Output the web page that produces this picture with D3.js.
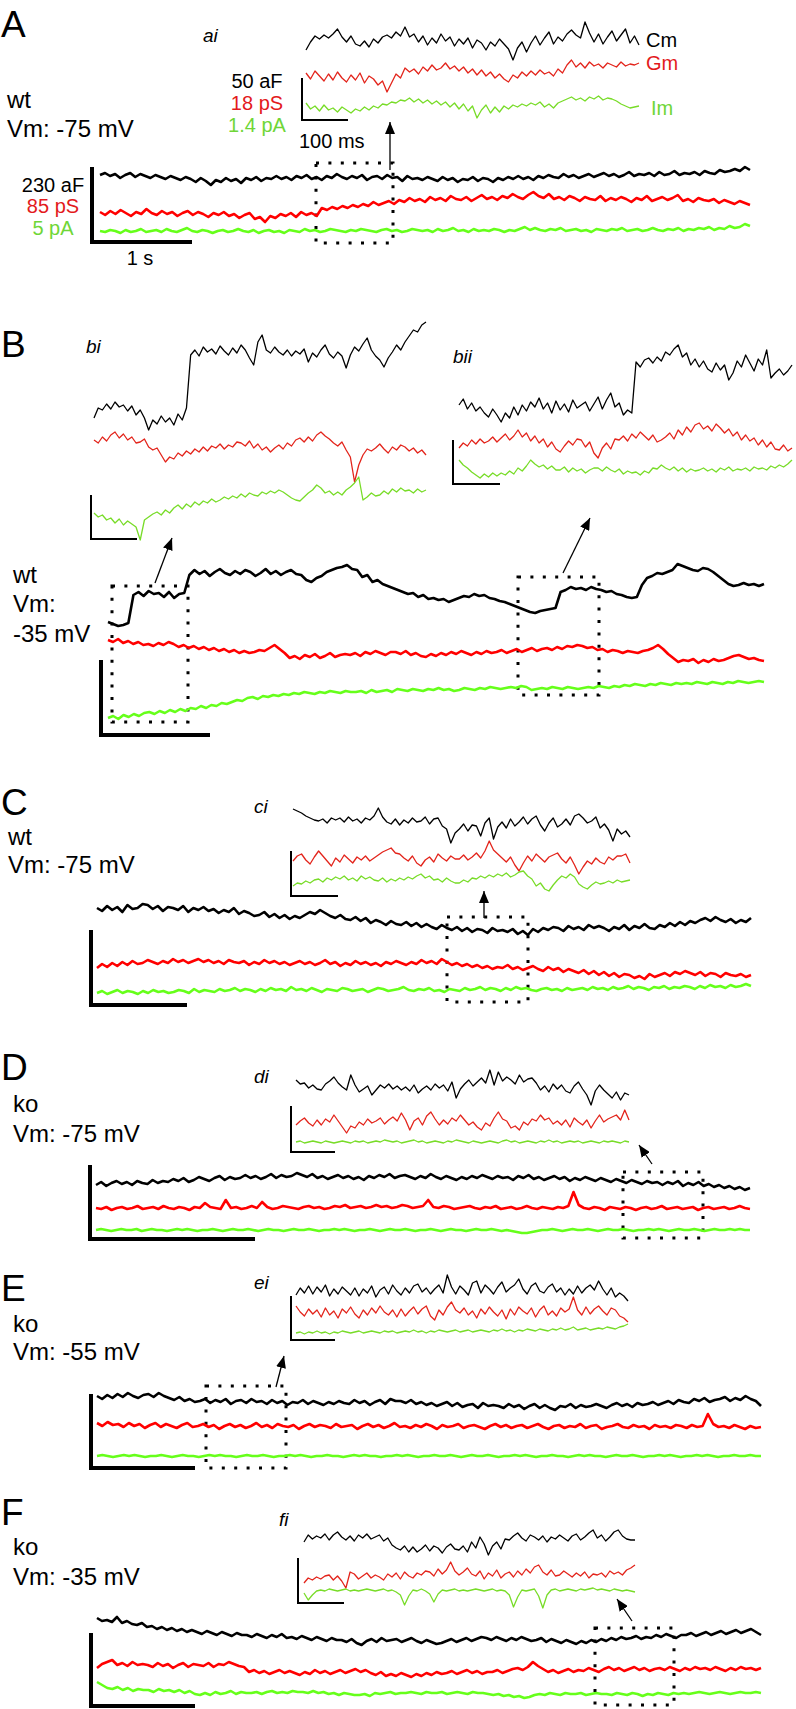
<!DOCTYPE html>
<html><head><meta charset="utf-8">
<script src="https://cdn.jsdelivr.net/npm/d3@7"></script>
<style>
html,body{margin:0;padding:0;background:#fff;}
svg{display:block;}
text{font-family:"Liberation Sans",Arial,sans-serif;}
</style></head>
<body>
<div id="chart"></div>
<script>
// ===== DATA (offsets, positive = up) =====
// Panel A main traces
const aCm = [2,4,1,3,-1,2,4,0,3,1,-1,2,0,-2,1,-1,-3,0,-2,-5,-1,-4,-8,-3,-5,-1,-4,-2,-6,-1,-3,0,-4,-1,-2,1,-2,0,-3,1,-1,2,-2,0,-3,1,-1,3,0,-2,1,-1,2,-3,0,1,-2,2,-1,0,-4,1,-2,-1,-3,0,-2,-4,0,-3,-1,-5,-2,-3,0,-4,-1,-2,-5,-1,-3,0,-2,1,-2,0,-3,1,-1,2,0,-1,3,0,2,-1,1,3,0,2,4,1,3,0,2,5,1,3,2,4,1,5,2,3,6,2,4,3,5,2,6,4,3,7,5,6,8,6,10,7];
const aGm = [-2,-5,-1,-4,0,-3,-6,-2,-4,1,-3,-5,-1,-4,-2,-6,-3,-1,-5,-2,-4,-7,-3,-5,-2,-6,-4,-8,-5,-3,-9,-7,-12,-6,-8,-4,-6,-3,-7,-2,-5,-3,-6,2,0,3,1,4,2,5,3,6,4,8,5,7,9,6,10,8,12,9,11,8,13,10,12,9,14,11,10,13,9,12,15,11,13,10,14,12,16,13,11,15,18,14,12,16,11,13,10,14,12,9,13,11,10,14,9,12,10,13,11,8,12,10,14,9,11,13,10,12,15,9,11,8,12,10,9,11,7,10,8,6,9,7,5];
const aIm = [0,-1,1,0,-2,1,-1,0,2,-1,0,1,-1,2,0,-1,1,3,0,-1,1,0,-2,0,1,-1,0,2,0,-1,1,-2,0,1,-1,0,-2,1,0,-1,2,0,1,-1,0,2,1,0,-1,1,0,2,1,0,-1,1,2,0,1,-1,0,2,1,0,1,-1,2,0,1,3,0,1,-1,2,0,1,0,2,1,-1,1,0,2,4,1,3,1,0,2,1,3,0,1,2,0,1,-1,2,1,0,2,1,3,0,1,2,0,1,3,1,0,2,1,3,0,2,1,3,2,4,1,3,2,5,3,4,7,5];
// Panel A inset (ai)
const aiCm = [-10,-2,4,1,5,2,6,11,3,-2,4,-4,-6,-1,-7,1,-3,3,5,2,8,4,13,3,6,-2,4,-5,2,-3,6,-1,3,-6,1,-4,2,-8,0,-3,-10,-2,-6,1,-4,-9,-20,-8,-2,-12,-3,4,-5,2,8,-4,3,-1,6,10,5,2,18,7,-2,6,-4,3,9,-1,5,11,-3,4,-5];
const aiGm = [4,-2,6,1,-4,3,-3,5,-1,-5,2,-3,4,-6,1,-2,-8,-4,-15,-6,3,-1,9,5,8,3,10,6,12,7,9,14,8,11,6,10,4,8,2,7,1,5,-1,3,-2,-5,2,-1,5,1,6,2,7,3,5,1,8,4,12,17,10,14,9,15,11,13,9,14,12,10,15,11,13,12,14];
const aiIm = [4,-2,1,-4,2,-3,-1,-5,0,-3,-6,-2,-4,0,-3,1,-1,3,2,5,4,7,6,9,5,8,4,7,3,6,2,5,0,4,-2,3,-4,1,-11,-3,2,-6,0,-5,1,-2,2,0,3,1,4,2,5,0,3,-1,4,6,8,10,7,9,6,10,8,11,7,9,8,6,3,1,-1,0,1];
// Panel B main
const bCm = [-32,-34,-36,-35,-33,-5,-2,-6,-1,-4,-3,-7,-2,-8,-4,-3,15,20,16,19,14,18,21,17,15,19,16,20,18,14,17,21,16,19,15,18,20,16,15,10,8,12,14,18,20,22,23,25,21,20,13,15,8,10,6,4,2,0,-2,-4,-3,-7,-5,-9,-8,-10,-9,-12,-10,-8,-6,-7,-4,-6,-5,-8,-9,-11,-12,-14,-16,-18,-20,-22,-23,-21,-20,-19,-18,-2,0,3,1,2,0,3,1,0,-2,-1,-4,-5,-7,-8,-7,5,12,14,17,16,18,20,26,24,22,20,19,22,21,18,14,10,6,4,5,7,5,6,4,6];
const bGm = [10,8,11,7,9,6,8,5,6,4,7,5,8,6,3,5,2,4,1,3,0,2,-1,1,-2,0,-3,-1,-3,-2,0,-1,2,5,1,-3,-8,-6,-9,-5,-7,-4,-8,-6,-3,-7,-5,-4,-5,-3,-6,-2,-4,-1,-3,-5,-2,-2,-4,-1,-5,-3,-6,-7,-4,-6,-3,-5,-2,-4,-1,-3,-5,-2,-4,-1,-3,-2,0,-3,-1,1,-2,0,2,-1,1,2,0,3,1,4,3,5,4,2,3,0,1,-2,0,-1,-3,-1,-2,-3,-1,0,2,5,1,-4,-8,-12,-10,-11,-9,-13,-10,-12,-9,-11,-10,-8,-6,-5,-7,-9,-8,-10,-11];
const bIm = [-18,-16,-19,-15,-17,-14,-16,-13,-12,-14,-11,-13,-10,-12,-9,-11,-8,-9,-6,-8,-5,-6,-3,-4,-2,0,-1,2,3,1,4,3,5,4,6,5,7,6,8,7,6,8,7,9,8,7,9,8,8,9,7,10,8,9,10,8,11,10,9,11,10,9,11,10,12,10,11,9,10,12,11,10,12,11,13,12,11,12,13,12,14,13,10,11,12,11,13,12,11,13,12,11,12,13,12,14,13,12,14,13,15,14,16,15,14,16,15,17,16,15,17,16,17,16,18,17,16,18,17,16,18,17,19,18,17,18,19,18];
// Panel B insets (bi, bii)
const biCm = [-38,-28,-30,-24,-29,-22,-27,-25,-31,-26,-35,-30,-38,-50,-40,-44,-36,-42,-38,-45,-34,-40,-28,25,30,24,33,28,31,26,34,29,25,32,27,35,30,22,15,38,45,30,27,33,28,25,30,24,29,26,31,18,27,23,30,35,26,22,28,24,12,25,33,29,36,42,30,24,20,13,22,28,35,30,38,44,50,48,55,58];
const biGm = [5,2,8,4,10,13,7,11,5,8,2,3,6,-2,-5,-3,-10,-17,-12,-14,-8,-11,-6,-9,-4,-7,-2,-6,-1,-3,1,-4,0,-2,3,2,-1,4,-3,1,-5,-2,-7,-3,0,-4,2,-1,5,7,3,8,4,10,13,9,6,2,-1,3,-5,-12,-37,-20,-10,-4,-6,-3,1,-4,-8,-2,-5,0,-2,-6,-3,-8,-5,-10];
const biIm = [-8,-12,-10,-15,-13,-18,-14,-20,-16,-19,-22,-35,-15,-12,-9,-7,-10,-5,-8,-3,0,-4,1,-2,3,0,4,2,6,3,5,8,6,9,7,11,8,12,10,9,13,11,14,12,15,13,10,7,5,4,8,12,15,20,17,12,14,10,13,10,15,18,22,28,5,8,12,9,10,14,11,16,13,17,14,15,12,16,13,15];
const biiCm = [-20,-14,-24,-18,-26,-22,-28,-32,-24,-30,-37,-28,-33,-22,-30,-20,-26,-17,-22,-13,-24,-18,-28,-16,-25,-19,-27,-15,-23,-20,-17,-26,-19,-12,-24,-15,-8,-22,-18,-30,-25,-28,23,18,25,27,22,28,24,33,30,36,40,28,32,20,26,18,24,16,13,22,15,20,5,12,24,18,30,22,14,26,20,35,7,12,16,10,14,20];
const biiGm = [-3,2,-1,5,1,6,2,4,8,3,7,11,5,9,15,8,12,4,9,2,6,-2,3,-4,-7,-1,4,0,6,5,-2,3,-8,-13,-3,2,-4,6,5,9,4,11,7,13,9,5,10,3,5,8,12,6,15,10,18,13,20,22,16,19,14,21,17,12,16,9,13,5,10,4,7,0,5,-2,3,-4,-5,0,-6,-3];
const biiIm = [10,5,2,-2,-5,-8,-4,-7,-3,-6,-3,-5,-1,-4,2,-1,4,10,6,3,5,1,4,0,0,3,-2,2,-1,1,-3,0,2,2,-1,3,0,-2,1,-4,-1,-3,-2,-5,-1,-3,2,1,5,2,0,3,-1,2,-2,1,-1,0,2,-1,1,-2,2,0,3,-1,1,0,2,-1,3,1,2,0,4,2,5,3,6,10];
// Panel C
const cCm = [12,9,14,10,13,8,15,11,12,16,15,11,14,9,13,12,10,14,8,12,10,13,9,11,7,10,8,12,6,9,7,4,5,8,3,6,2,5,1,4,2,5,8,6,10,7,4,2,5,1,0,3,-1,2,-3,0,-2,-5,-1,-4,-5,-2,-6,-3,-7,-4,-7,-9,-5,-8,-10,-7,-11,-8,-12,-9,-10,-13,-8,-11,-10,-12,-9,-14,-11,-15,-9,-12,-8,-10,-7,-8,-11,-6,-9,-7,-10,-5,-8,-6,-8,-11,-7,-9,-5,-10,-6,-8,-4,-8,-9,-5,-7,-3,-6,-2,-5,-1,-3,0,2,-1,3,0,-2,1,-3,0,-2,2];
const cGm = [-3,1,-2,2,-1,3,0,4,1,2,5,3,1,4,2,6,3,5,2,4,6,3,5,2,4,1,5,3,2,4,0,3,1,5,2,4,1,3,0,2,4,1,3,0,2,5,1,3,-1,2,0,4,1,3,0,2,-1,3,1,4,2,0,3,1,5,2,4,1,6,3,0,2,-1,1,-2,0,-3,-1,-4,-2,-3,0,-4,-2,-5,-3,-1,-4,-6,-2,-5,-3,-7,-4,-6,-8,-5,-9,-6,-10,-7,-11,-8,-12,-9,-10,-13,-11,-14,-9,-12,-10,-8,-11,-7,-9,-6,-8,-10,-7,-11,-8,-9,-12,-8,-10,-11,-9,-12,-10];
const cIm = [-3,-1,-4,-2,0,-3,-1,-2,-4,-1,-3,0,-2,-1,-3,-2,0,-1,-3,1,-2,0,-1,-2,1,-1,0,2,-1,1,0,-2,1,-1,2,0,1,-1,3,0,1,-1,2,0,-2,1,0,-1,2,1,-1,0,1,-2,0,2,1,-1,0,1,3,0,-1,1,0,2,-1,0,-2,1,0,-1,2,0,1,3,0,2,1,-1,2,0,3,1,2,0,-1,1,2,0,1,-1,2,0,1,2,0,3,1,2,0,3,1,2,4,1,3,2,0,3,2,4,1,3,2,4,3,1,4,2,5,3,4,2,5,3,4,6,4];
const ciCm = [12,10,8,5,3,1,0,2,-2,3,1,3,-1,4,0,2,-2,3,1,5,13,4,-1,-3,2,-4,1,-2,3,-1,0,4,-3,2,3,-5,-8,-22,-12,-8,-3,-10,-4,-5,-15,-2,3,-18,-6,-1,-7,2,-5,-1,4,-3,2,5,-4,-10,-2,3,-6,-3,2,-4,5,7,3,-2,0,4,-7,-3,-9,-20,-8,-13,-10,-16];
const ciGm = [-2,3,5,-1,-5,2,8,3,-2,-7,1,-3,4,0,-4,2,-1,3,-2,1,4,7,9,11,6,5,1,-2,3,-4,-7,-1,2,-3,5,1,-2,3,0,0,4,-1,2,6,1,8,18,9,5,1,-3,2,-6,-12,-4,3,-2,5,1,-3,2,4,6,0,-4,2,-6,-15,-8,-2,-5,1,-3,-5,2,-1,3,3,5,-4];
const ciIm = [-5,-2,-3,0,-2,1,2,-1,3,1,4,2,5,1,3,0,5,2,4,1,0,3,-1,2,0,3,1,4,2,5,7,3,5,1,2,-1,3,0,-2,-2,1,-1,3,2,5,3,6,4,7,5,8,4,6,9,10,5,2,-5,-2,-8,-10,-4,1,5,3,7,4,-3,-6,-8,-4,-1,-3,-2,0,-2,1,-1,0,1];
// Panel D
const dCm = [-5,-2,-6,-3,-1,-4,-2,-5,-1,-3,-4,0,-3,-1,-2,1,-1,2,-2,0,3,1,-1,2,4,0,3,1,2,5,2,4,1,3,6,2,5,3,4,7,5,3,6,2,4,1,3,5,2,4,1,3,0,4,2,5,3,6,2,4,5,3,1,4,2,6,3,1,4,2,0,3,1,4,2,5,3,1,4,2,3,0,4,2,5,1,3,0,2,4,1,3,-1,2,0,3,1,-1,2,0,-2,1,-1,-3,0,-2,-4,-1,-3,-2,-5,-2,-4,-1,-6,-3,-5,-2,-6,-4,-7,-5,-8,-6,-9,-7,-10,-8];
const dGm = [0,-1,1,-2,0,1,-1,0,2,-1,0,1,-1,2,0,-1,1,0,-2,1,0,5,1,0,-1,8,0,1,-1,0,2,0,6,1,-1,0,2,1,0,-1,1,2,0,1,-1,0,2,1,3,0,1,2,0,1,3,1,2,0,1,3,2,0,1,2,8,1,0,2,1,-1,0,1,2,0,-1,1,0,2,-1,0,1,-1,0,2,0,-1,1,0,-1,1,0,2,16,3,0,-1,1,0,-2,1,0,-1,1,0,-2,0,1,-1,0,2,-1,0,1,-1,0,1,-2,0,1,-1,0,1,-1,0,2,0,-1];
const dIm = [0,1,0,-1,0,1,0,0,1,-1,0,1,0,0,-1,0,1,0,1,0,-1,0,0,1,0,-1,0,1,0,0,1,0,-1,0,1,0,0,-1,0,1,0,0,1,0,-1,0,0,1,0,1,0,-1,0,0,1,0,-1,0,1,0,0,1,0,-1,0,0,1,0,-1,0,1,0,0,-1,0,1,0,0,1,0,-1,0,-1,-2,-3,-3,-2,-1,0,0,1,0,-1,0,1,0,0,1,0,-1,0,1,0,0,1,0,-1,0,0,1,0,1,0,-1,0,1,0,0,1,0,-1,0,1,0,0,1,0,1,0,0];
const diCm = [7,3,4,-1,2,-2,-3,3,6,10,4,0,-3,12,2,-5,-2,1,-8,-3,2,-1,3,-2,1,-3,0,-4,2,-6,-2,1,-3,3,-1,2,-4,5,-11,-2,3,7,1,5,9,4,17,2,15,6,10,7,3,12,5,8,9,4,-3,1,-5,3,-2,2,-4,-6,1,5,-2,-8,-18,-4,2,-3,-7,-11,-5,-13,-6,-8];
const diGm = [-2,2,5,0,-3,3,-2,4,1,8,2,-4,-10,-3,-5,1,-2,4,0,2,5,-1,3,6,2,10,3,-7,2,5,-2,7,11,4,-2,3,-1,5,2,8,3,-2,1,-4,-7,0,-3,5,11,4,2,-5,-3,-7,1,-2,4,2,8,3,5,-1,2,-2,3,-4,5,1,-2,3,-5,2,8,1,4,6,8,3,13,3];
const diIm = [0,1,-1,0,1,0,-1,1,0,-1,0,1,0,-1,1,0,1,-1,0,1,0,2,1,0,1,-1,0,1,2,0,1,-1,0,1,0,-1,1,0,2,1,0,-1,1,0,-1,0,1,0,-1,1,2,0,1,-1,0,1,0,-1,1,0,2,0,1,-1,0,1,0,1,-1,0,1,0,-1,1,0,1,0,-1,1,0];
// Panel E
const eCm = [5,2,6,3,7,4,8,5,3,6,7,4,8,5,3,1,4,0,2,-1,0,2,-2,1,-1,2,-3,0,1,-2,2,-1,0,-3,1,-2,0,-4,-1,-2,1,-3,0,-2,-4,-1,-3,0,-2,-3,1,-2,0,-4,-1,1,-3,2,0,0,-2,1,-3,-1,-4,-2,-5,-3,-1,-5,-2,-6,-4,-3,-7,-2,-5,-4,-5,-7,-3,-6,-4,-8,-5,-3,-7,-4,-7,-9,-5,-6,-3,-7,-4,-6,-5,-3,-5,-7,-4,-2,-5,-3,-6,-2,-4,-3,-1,-4,-2,0,-3,1,-1,-2,2,0,3,-1,1,2,4,0,3,1,5,2,0,-5];
const eGm = [3,0,4,1,2,-1,3,0,2,-2,1,3,-1,2,0,-2,1,3,-1,0,2,-1,1,-3,0,2,-1,1,-2,0,3,-1,1,-2,2,0,-1,1,-3,0,2,-1,1,0,-2,2,-1,0,1,-3,0,2,-1,1,-2,0,3,-1,0,-2,1,-1,2,0,-3,1,-1,0,2,-2,0,1,-1,-3,0,2,-1,1,-2,0,1,-2,0,2,-1,-3,0,1,-2,0,-1,2,-2,0,1,-3,-1,0,2,-1,-2,1,-1,0,-3,1,-1,0,-2,1,0,-2,1,-1,0,12,2,-1,0,-2,1,-1,-3,0,-2,-1];
const eIm = [0,1,0,-1,0,1,0,1,0,-1,0,0,1,0,-1,0,1,0,0,-1,0,1,0,1,0,0,-1,0,1,0,0,1,0,-1,0,0,1,0,1,0,-1,0,0,1,0,0,-1,0,1,0,1,0,0,-1,0,0,1,0,1,0,-1,0,0,1,0,0,1,0,-1,0,1,0,0,1,0,-1,0,0,1,0,1,0,-1,0,0,1,0,0,-1,0,1,0,1,0,0,-1,0,1,0,0,1,0,-1,0,0,1,0,1,0,-1,0,0,1,0,1,0,-1,0,0,1,0,0,1,0,0];
const eiCm = [-4,3,-2,5,-3,4,-1,6,-5,2,-3,4,0,-4,3,-5,2,-2,5,-6,1,4,-3,6,0,-4,3,-2,5,7,-1,3,-3,2,6,-2,16,4,-3,5,1,-4,8,10,-2,6,2,-3,4,9,-1,3,6,12,2,-3,5,8,0,-2,4,7,-1,3,-4,2,-3,5,-2,3,6,1,10,2,-4,3,-6,-2,-5,-10];
const eiGm = [6,0,-4,3,-2,2,-5,4,-3,1,-6,3,-1,5,-2,-6,2,-3,4,-1,6,0,-3,2,-5,3,-4,1,5,-2,3,6,-4,-8,2,-3,5,10,2,-1,4,-3,1,-6,3,-2,5,0,-4,2,-7,3,-3,5,1,-2,4,-5,2,6,-3,1,-4,4,0,3,15,2,-3,5,-2,3,6,1,-3,4,2,-4,-6,-10];
const eiIm = [-1,0,-2,0,-1,1,-1,0,-2,0,-1,1,0,-1,0,1,-1,0,1,0,-1,1,0,1,-1,0,1,0,2,0,1,-1,1,0,2,1,0,1,2,0,1,2,0,1,2,1,0,2,1,3,1,2,0,2,1,3,2,1,3,2,1,3,2,4,2,3,5,2,3,4,2,3,4,3,5,4,3,5,6,8];
// Panel F
const fCm = [17,14,15,13,18,12,14,11,10,12,8,9,6,8,5,7,4,6,3,5,3,1,4,2,0,3,1,-1,2,0,0,-2,1,-1,-3,0,-2,1,-3,-2,-4,-1,-3,-5,-2,-4,-6,-3,-5,-5,-7,-4,-8,-10,-6,-4,-7,-3,-6,-5,-4,-7,-5,-3,-6,-8,-5,-7,-9,-8,-6,-4,-7,-5,-3,-6,-4,-2,-3,-5,-2,-4,-6,-3,-5,-2,-4,-6,-5,-3,-7,-4,-6,-8,-5,-7,-9,-6,-8,-5,-7,-4,-6,-3,-5,-2,-4,-3,-1,-4,-2,-3,0,-2,1,-1,-3,0,0,2,-1,1,3,0,2,4,1,3,5,2,4,6,3,0];
const fGm = [2,6,8,10,5,7,4,8,5,6,5,3,7,4,6,2,5,7,3,6,5,4,7,3,6,5,8,6,4,3,-2,0,-3,-1,-4,-2,0,-3,-1,-3,-5,-2,-4,0,-3,-1,-4,-2,0,-3,-1,1,-2,0,-3,-5,-2,-6,-4,-6,-3,-5,-7,-4,-6,-3,-5,-2,-4,-3,-1,-4,-2,0,-3,-1,-4,-2,-2,0,-3,-1,1,2,0,3,8,4,1,-2,0,-3,-1,1,-2,0,-1,2,0,-2,1,3,0,2,-1,1,3,0,2,-1,1,2,0,3,1,-1,2,0,3,1,2,0,3,1,-1,2,0,3,1,2,0,2];
const fIm = [10,7,4,3,5,2,4,1,3,2,2,0,3,1,2,0,2,-1,1,-2,-3,-1,-3,0,-2,-1,1,-2,0,-1,-1,0,-2,0,1,-1,0,-1,1,0,0,-1,1,-1,0,-2,-1,-3,-1,-2,-3,-3,-2,-4,-1,-2,-1,0,-2,-1,-1,0,-1,-2,0,-1,-1,0,-2,-1,0,-1,-2,0,-1,-1,-2,-3,-2,-4,-3,-5,-4,-6,-5,-3,-2,-3,-1,-2,-3,-1,-2,-2,-1,-3,-2,-1,-2,-2,-3,-1,-2,-3,-1,-2,-4,-2,-3,-1,-2,-3,-1,-2,-1,-2,-1,0,-1,-2,-1,0,-1,-2,-1,0,-1,-1,0,-1];
const fiCm = [-2,5,1,4,2,6,0,5,8,3,0,4,-1,5,2,6,1,3,5,-1,2,-5,-8,-10,-6,-12,-7,-12,-9,-5,-11,-6,-8,-13,-7,-4,-9,-10,-6,-12,-2,-8,3,-4,-15,-6,-2,-9,1,0,4,7,2,-1,5,3,0,4,-2,3,1,5,2,-1,4,6,0,3,7,10,2,5,-1,3,8,10,4,1,0,0];
const fiGm = [-6,-1,-3,0,-2,1,2,-3,1,-4,-11,5,3,-2,1,4,-1,2,0,-3,3,0,4,-2,5,1,-1,4,2,6,5,1,8,3,7,15,6,2,5,9,3,1,6,-2,4,1,7,-1,3,5,0,6,2,8,4,10,12,5,2,7,1,2,6,3,0,4,1,5,-1,3,2,4,0,6,3,5,2,7,9,12];
const fiIm = [-2,-9,-4,0,1,0,2,1,0,1,2,0,1,0,1,2,1,0,1,2,0,1,-1,-4,-14,-5,1,0,2,0,-3,-11,-3,1,0,1,2,0,1,0,1,2,1,0,1,2,0,1,0,-4,-16,-6,1,0,1,2,-5,-17,-4,1,2,0,1,2,1,0,2,1,2,3,1,2,1,0,2,1,0,1,0,-1];

// Text labels
const panelLetters = ["A","B","C","D","E","F"];
const genotypes = ["wt","wt","wt","ko","ko","ko"];
const holding = ["Vm: -75 mV","Vm: -35 mV","Vm: -75 mV","Vm: -75 mV","Vm: -55 mV","Vm: -35 mV"];
const insetNames = ["ai","bi","bii","ci","di","ei","fi"];
const mainScaleLabels = ["230 aF","85 pS","5 pA"];
const insetScaleLabels = ["50 aF","18 pS","1.4 pA"];
const traceNames = ["Cm","Gm","Im"];
const timeLabels = ["1 s","100 ms"];

// ===== STYLE =====
const COL = {cm:"#000000", gm:"#ff0000", im:"#66ff1a", gmIn:"#e3241b", imIn:"#78dc28", gmTxt:"#e31a1c", imTxt:"#6fd637"};
const FONT = "'Liberation Sans', Arial, sans-serif";

const svg = d3.select("#chart").append("svg").attr("width",796).attr("height",1709);
svg.append("defs").append("marker")
  .attr("id","ah").attr("viewBox","0 0 12 10").attr("refX",12).attr("refY",5)
  .attr("markerWidth",12).attr("markerHeight",10).attr("markerUnits","userSpaceOnUse")
  .attr("orient","auto")
  .append("path").attr("d","M0,0 L12,5 L0,10 Z").attr("fill","#000");

const gBox = svg.append("g"), gTr = svg.append("g"), gAnn = svg.append("g");

function drawTrace(values, x0, x1, base, color, width){
  const x = d3.scaleLinear().domain([0, values.length-1]).range([x0, x1]);
  const y = d3.scaleLinear().domain([-50, 50]).range([base+50, base-50]);
  gTr.append("path").datum(values)
    .attr("d", d3.line().x((d,i)=>x(i)).y(d=>y(d)))
    .attr("fill","none").attr("stroke",color).attr("stroke-width",width)
    .attr("stroke-linejoin","round");
}
function triple(set, x0, x1, bases, inset){
  const w = inset ? 1.3 : 2.6;
  drawTrace(set[0], x0, x1, bases[0], COL.cm, w);
  drawTrace(set[1], x0, x1, bases[1], inset ? COL.gmIn : COL.gm, w);
  drawTrace(set[2], x0, x1, bases[2], inset ? COL.imIn : COL.im, w);
}
function scaleBar(x, yTop, yBot, xRight, w){
  gAnn.append("path").attr("d",`M${x},${yTop} L${x},${yBot} L${xRight},${yBot}`)
    .attr("fill","none").attr("stroke","#000").attr("stroke-width",w).attr("stroke-linejoin","miter");
}
function dotBox(x0,y0,x1,y1){
  gBox.append("rect").attr("x",x0).attr("y",y0).attr("width",x1-x0).attr("height",y1-y0)
    .attr("fill","none").attr("stroke","#000").attr("stroke-width",3).attr("stroke-dasharray","3,9.4");
}
function arrow(x1,y1,x2,y2){
  gAnn.append("line").attr("x1",x1).attr("y1",y1).attr("x2",x2).attr("y2",y2)
    .attr("stroke","#000").attr("stroke-width",1.3).attr("marker-end","url(#ah)");
}
function txt(s,x,y,size,opts={}){
  gAnn.append("text").attr("x",x).attr("y",y).text(s)
    .attr("font-size",size).attr("font-family",FONT)
    .attr("fill",opts.fill||"#000")
    .attr("text-anchor",opts.anchor||"start")
    .attr("font-style",opts.italic?"italic":"normal");
}

// ===== LAYOUT =====
const P = [
 {letterY:37, gx:7, gY:108, vY:[137],
  main:{x0:100,x1:750,b:[177,210,231],data:[aCm,aGm,aIm],bar:[92,167,242,192]},
  insets:[{x0:306,x1:639,b:[40,77,107],data:[aiCm,aiGm,aiIm],bar:[302,78,120,348],name:"ai",nx:203,ny:42}],
  boxes:[[316,163,393,243]], arrows:[[390,170,390,122]]},
 {letterY:357, gx:13, gY:583, vY:[612,642],
  main:{x0:108,x1:764,b:[590,650,700],data:[bCm,bGm,bIm],bar:[101,660,735,210]},
  insets:[{x0:94,x1:426,b:[380,445,505],data:[biCm,biGm,biIm],bar:[91,495,539,137],name:"bi",nx:86,ny:353},
          {x0:459,x1:792,b:[385,445,470],data:[biiCm,biiGm,biiIm],bar:[453,440,484,500],name:"bii",nx:453,ny:363}],
  boxes:[[112,586,188,722],[518,577,599,695]], arrows:[[155,583,172,538],[563,573,590,518]]},
 {letterY:815, gx:8, gY:845, vY:[873],
  main:{x0:97,x1:751,b:[920,965,990],data:[cCm,cGm,cIm],bar:[91,930,1005,187]},
  insets:[{x0:293,x1:630,b:[821,859,881],data:[ciCm,ciGm,ciIm],bar:[291,851,896,338],name:"ci",nx:254,ny:813}],
  boxes:[[447,917,528,1002]], arrows:[[484,918,484,891]]},
 {letterY:1080, gx:13, gY:1112, vY:[1142],
  main:{x0:96,x1:750,b:[1180,1208,1230],data:[dCm,dGm,dIm],bar:[90,1165,1239,255]},
  insets:[{x0:296,x1:629,b:[1087,1123,1142],data:[diCm,diGm,diIm],bar:[291,1106,1152,335],name:"di",nx:254,ny:1083}],
  boxes:[[623,1172,703,1238]], arrows:[[652,1164,639,1145]]},
 {letterY:1301, gx:13, gY:1332, vY:[1360],
  main:{x0:97,x1:761,b:[1401,1426,1456],data:[eCm,eGm,eIm],bar:[91,1394,1468,195]},
  insets:[{x0:296,x1:628,b:[1291,1312,1332],data:[eiCm,eiGm,eiIm],bar:[291,1296,1340,335],name:"ei",nx:254,ny:1289}],
  boxes:[[206,1386,286,1468]], arrows:[[276,1387,284,1356]]},
 {letterY:1525, gx:13, gY:1555, vY:[1585],
  main:{x0:97,x1:761,b:[1635,1670,1692],data:[fCm,fGm,fIm],bar:[91,1633,1706,195]},
  insets:[{x0:304,x1:635,b:[1540,1577,1591],data:[fiCm,fiGm,fiIm],bar:[298,1558,1603,344],name:"fi",nx:279,ny:1526}],
  boxes:[[595,1628,674,1705]], arrows:[[632,1621,617,1599]]}
];

P.forEach((p,k)=>{
  txt(panelLetters[k], 1, p.letterY, 37);
  txt(genotypes[k], p.gx, p.gY, 24);
  if (p.vY.length === 1) txt(holding[k], p.gx, p.vY[0], 24);
  else { txt("Vm:", p.gx, p.vY[0], 24); txt(holding[k].replace("Vm: ",""), p.gx, p.vY[1], 24); }
  p.boxes.forEach(b=>dotBox(...b));
  triple(p.main.data, p.main.x0, p.main.x1, p.main.b, false);
  const mb = p.main.bar; scaleBar(mb[0], mb[1], mb[2], mb[3], 4);
  p.insets.forEach(ins=>{
    triple(ins.data, ins.x0, ins.x1, ins.b, true);
    const ib = ins.bar; scaleBar(ib[0], ib[1], ib[2], ib[3], 2);
    txt(ins.name, ins.nx, ins.ny, 19, {italic:true});
  });
  p.arrows.forEach(a=>arrow(...a));
});

// Panel A extra labels
txt(mainScaleLabels[0], 53, 192, 20, {anchor:"middle"});
txt(mainScaleLabels[1], 53, 213, 20, {anchor:"middle", fill:COL.gmTxt});
txt(mainScaleLabels[2], 53, 235, 20, {anchor:"middle", fill:COL.imTxt});
txt(timeLabels[0], 140, 265, 20, {anchor:"middle"});
txt(insetScaleLabels[0], 257, 88, 20, {anchor:"middle"});
txt(insetScaleLabels[1], 257, 110, 20, {anchor:"middle", fill:COL.gmTxt});
txt(insetScaleLabels[2], 257, 132, 20, {anchor:"middle", fill:COL.imTxt});
txt(timeLabels[1], 299, 148, 20);
txt(traceNames[0], 646, 47, 20);
txt(traceNames[1], 646, 70, 20, {fill:COL.gmTxt});
txt(traceNames[2], 651, 115, 20, {fill:COL.imTxt});
</script>
</body></html>
